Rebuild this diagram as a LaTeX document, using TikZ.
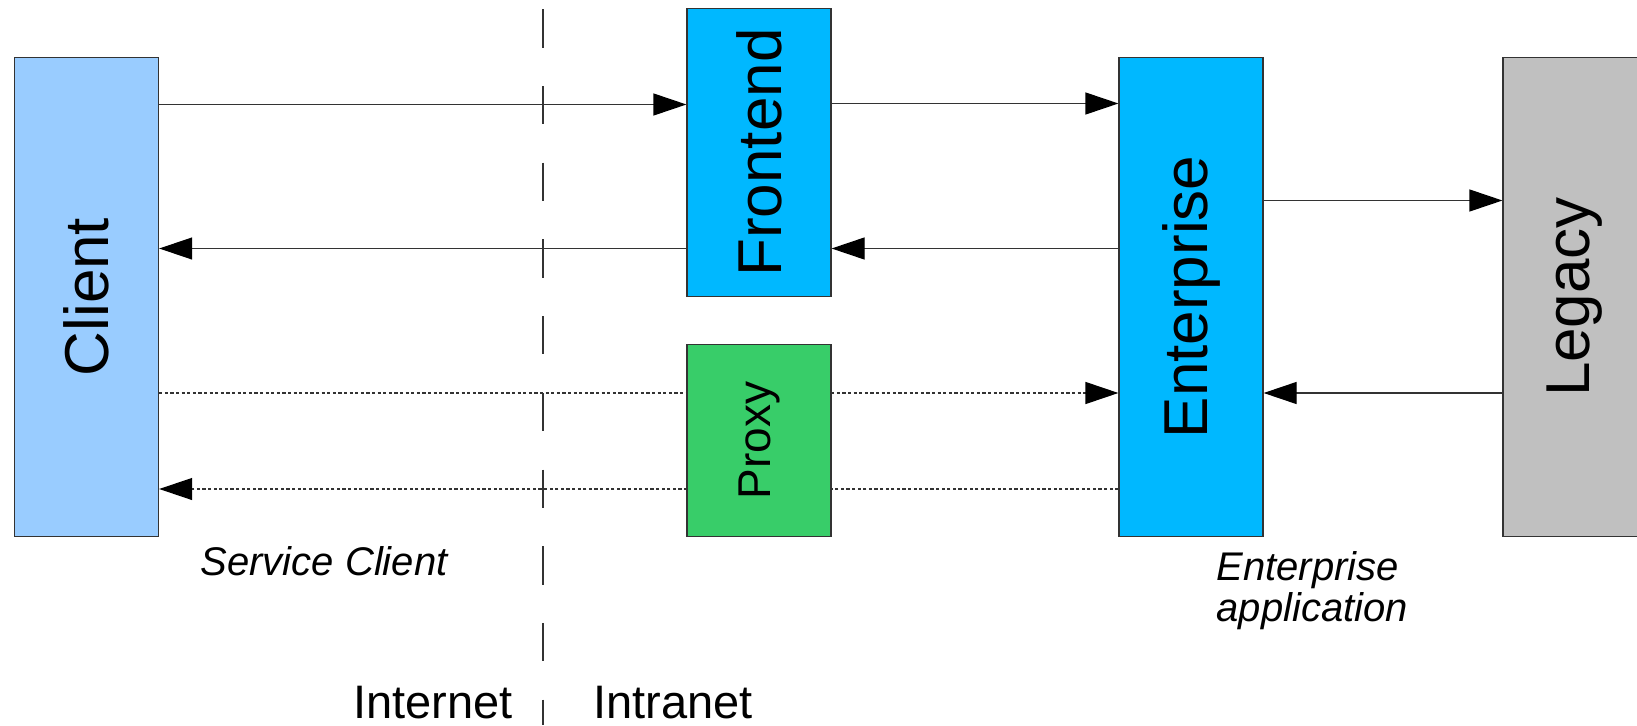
\documentclass[tikz,border=0pt]{standalone}
\usepackage{fontspec}
\usepackage{graphicx}
\setmainfont{Liberation Sans}
\usetikzlibrary{arrows.meta,backgrounds}

\definecolor{clientblue}{HTML}{99CCFF}
\definecolor{appblue}{HTML}{00B8FF}
\definecolor{proxygreen}{HTML}{38CD69}
\definecolor{legacygray}{HTML}{C0C0C0}
\definecolor{edge}{HTML}{333333}

\tikzset{
  tier/.style={draw=edge, line width=1.2pt, inner sep=0pt, minimum width=144pt,
    text=black, font=\fontsize{62}{70}\selectfont},
  flow/.style={draw=edge, line width=1.2pt, -{Triangle[length=33pt,width=22pt,color=black]}},
  bypass/.style={flow, dash pattern=on 3.2pt off 2.4pt},
  caption/.style={inner sep=0pt, font=\fontsize{40}{41}\selectfont\itshape},
  zone/.style={inner sep=0pt, font=\fontsize{47}{50}\selectfont},
}

\begin{document}
\begin{tikzpicture}[x=1pt, y=-1pt]
\useasboundingbox (0,0) rectangle (1637,725);
\clip (0,0) rectangle (1637,725);

% tiers
\node[tier, fill=clientblue, minimum height=479pt] (client) at (86.6,297) {\rotatebox{90}{Client}};
\node[tier, fill=appblue, minimum height=288pt] (front) at (759,152.5) {\rotatebox{90}{Frontend}};
\node[tier, fill=proxygreen, minimum height=192pt, font=\fontsize{46}{50}\selectfont] (proxy) at (759,440.5) {\rotatebox{90}{Proxy}};
\node[tier, fill=appblue, minimum height=479pt] (ent) at (1191,297) {\rotatebox{90}{Enterprise}};
\node[tier, fill=legacygray, minimum height=479pt] (legacy) at (1575,297) {\rotatebox{90}{Legacy}};

% message levels
\coordinate (l1) at (0,104.5);
\coordinate (l1b) at (0,103.5);
\coordinate (l2) at (0,248.5);
\coordinate (l3) at (0,200.5);
\coordinate (l4) at (0,393);
\coordinate (l5) at (0,489);

% network boundary
\coordinate (btop) at (543,9.3);
\coordinate (bbot) at (543,725);
\draw[edge, line width=1.2pt, dash pattern=on 38.3pt off 38.4pt] (btop) -- (bbot);

% messages
\begin{scope}[on background layer]
\draw[flow] (client.east |- l1) -- (front.west |- l1);
\draw[flow] (front.west |- l2) -- (client.east |- l2);
\draw[flow] (front.east |- l1b) -- (ent.west |- l1b);
\draw[flow] (ent.west |- l2) -- (front.east |- l2);
\draw[flow] (ent.east |- l3) -- (legacy.west |- l3);
\draw[flow] (legacy.west |- l4) -- (ent.east |- l4);
\draw[bypass] (client.east |- l4) -- (ent.west |- l4);
\draw[bypass] (ent.west |- l5) -- (client.east |- l5);
\end{scope}

% captions
\node[caption, anchor=base west] (svc) at (200.5,575) {Service Client};
\node[caption, anchor=base west, align=left] (entapp) at (1216.5,621) {Enterprise\\application};
\node[zone, anchor=base west] (inet) at (353,718) {Internet};
\node[zone, anchor=base west] (inta) at (593,718) {Intranet};
\end{tikzpicture}
\end{document}
